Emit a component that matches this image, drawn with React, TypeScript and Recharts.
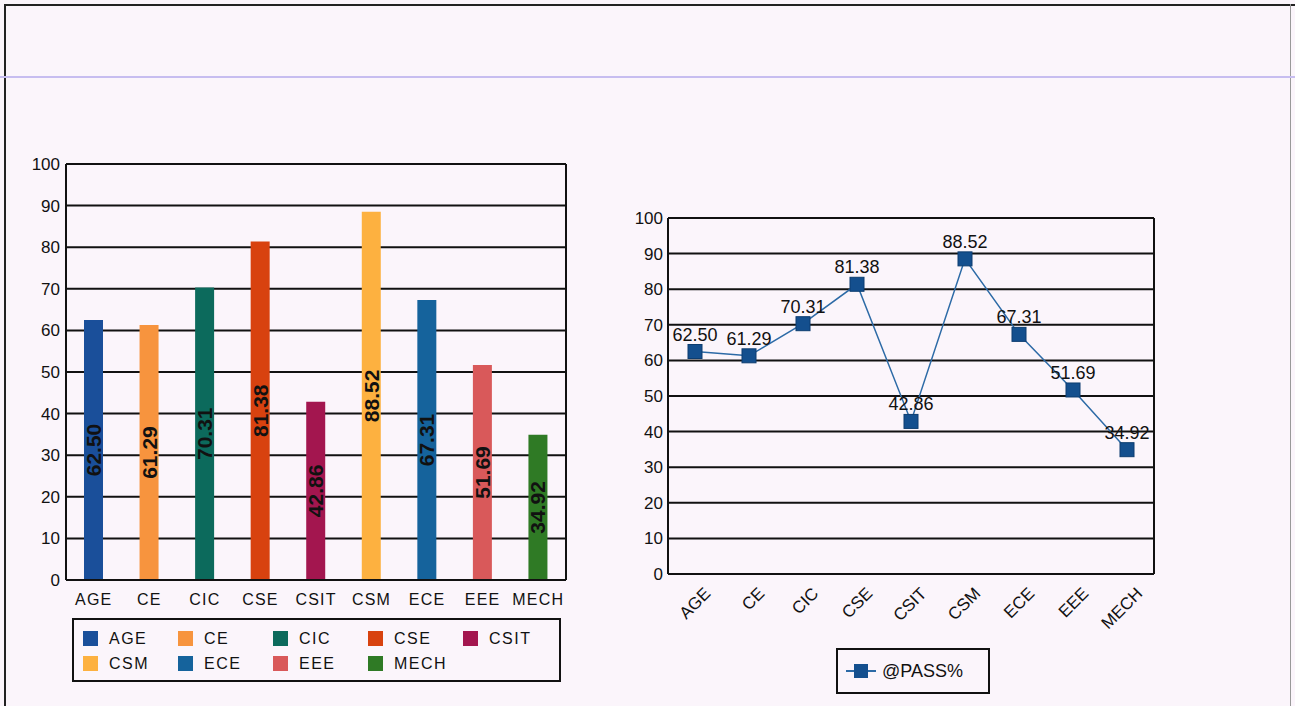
import {
  BarChart, Bar, LineChart, Line, XAxis, YAxis, CartesianGrid, Cell, LabelList,
} from 'recharts'

const branches = ['AGE', 'CE', 'CIC', 'CSE', 'CSIT', 'CSM', 'ECE', 'EEE', 'MECH']
const passPct = [62.5, 61.29, 70.31, 81.38, 42.86, 88.52, 67.31, 51.69, 34.92]
const branchColors = ['#1a4f9a', '#f7943e', '#0c6a5c', '#d8420f', '#a3164f', '#fdb140', '#15639c', '#d9595a', '#2f7a25']
const yTicks = [0, 10, 20, 30, 40, 50, 60, 70, 80, 90, 100]
const seriesName = '@PASS%'

const data = branches.map((name, i) => ({ name, pass: passPct[i] }))

const INK = '#111'
const BG = '#fbf5fb'

const BarValueLabel = (props: any) => {
  const { x, y, width, height, value } = props
  const cx = Number(x) + Number(width) / 2
  const cy = Number(y) + Number(height) / 2
  return (
    <text
      x={cx}
      y={cy}
      transform={`rotate(-90 ${cx} ${cy})`}
      textAnchor="middle"
      dominantBaseline="central"
      fontSize={21}
      fontWeight="bold"
      fill={INK}
    >
      {Number(value).toFixed(2)}
    </text>
  )
}

const PointLabel = (props: any) => {
  const { x, y, value } = props
  return (
    <text x={x} y={Number(y) - 11} textAnchor="middle" fontSize={18} fill={INK}>
      {Number(value).toFixed(2)}
    </text>
  )
}

const SquareDot = (props: any) => {
  const { cx, cy, index } = props
  return <rect key={index} x={cx - 7} y={cy - 7} width={14} height={14} fill="#144f8e" stroke="#0d3d70" strokeWidth={1} />
}

function BranchLegend() {
  return (
    <div style={{
      position: 'absolute', left: 72, top: 618, width: 489, height: 64,
      border: `2px solid ${INK}`, display: 'flex', flexWrap: 'wrap', alignContent: 'flex-start',
      padding: '6px 0 0 9px', boxSizing: 'border-box',
    }}>
      {branches.map((b, i) => (
        <div key={b} style={{ width: 95, height: 25, display: 'flex', alignItems: 'center' }}>
          <span style={{ width: 15, height: 15, background: branchColors[i], marginRight: 11, flexShrink: 0 }} />
          <span style={{ fontSize: 16, letterSpacing: 1.5, color: INK }}>{b}</span>
        </div>
      ))}
    </div>
  )
}

function PassLegend() {
  return (
    <div style={{
      position: 'absolute', left: 836, top: 648, width: 154, height: 46,
      border: `2px solid ${INK}`, boxSizing: 'border-box',
      display: 'flex', alignItems: 'center', paddingLeft: 8,
    }}>
      <svg width={30} height={16} style={{ marginRight: 6 }}>
        <line x1={0} y1={8} x2={30} y2={8} stroke="#2c6aa6" strokeWidth={2} />
        <rect x={8} y={1} width={14} height={14} fill="#144f8e" />
      </svg>
      <span style={{ fontSize: 18, color: INK }}>{seriesName}</span>
    </div>
  )
}

export default function App() {
  return (
    <div style={{
      position: 'absolute', left: 0, top: 0, width: 1295, height: 706,
      background: BG, overflow: 'hidden', fontFamily: '"Liberation Sans", Arial, sans-serif',
    }}>
      {/* page frame */}
      <div style={{ position: 'absolute', left: 4, top: 4, width: 1291, height: 2, background: '#222' }} />
      <div style={{ position: 'absolute', left: 4, top: 4, width: 2, height: 702, background: '#222' }} />
      <div style={{ position: 'absolute', left: 1290, top: 4, width: 1, height: 702, background: '#999' }} />
      <div style={{ position: 'absolute', left: 0, top: 76, width: 1295, height: 2, background: '#c7bdf0' }} />

      <div style={{ position: 'absolute', left: 0, top: 150 }}>
        <BarChart width={600} height={470} data={data} margin={{ top: 14, right: 0, left: 0, bottom: 0 }} barSize={19}>
          <CartesianGrid vertical={false} stroke={INK} strokeWidth={2} />
          <XAxis
            dataKey="name"
            height={40}
            tickLine={false}
            tickMargin={8}
            axisLine={{ stroke: INK, strokeWidth: 2 }}
            tick={{ fontSize: 16, fill: INK, letterSpacing: 1.2 }}
            interval={0}
          />
          <YAxis
            domain={[0, 100]}
            ticks={yTicks}
            width={66}
            tickLine={false}
            tickSize={0}
            tickMargin={6}
            axisLine={{ stroke: INK, strokeWidth: 2 }}
            tick={{ fontSize: 17, fill: INK }}
          />
          <YAxis
            yAxisId="frame"
            orientation="right"
            domain={[0, 100]}
            width={34}
            tick={false}
            tickLine={false}
            axisLine={{ stroke: INK, strokeWidth: 2 }}
          />
          <Bar dataKey="pass" isAnimationActive={false}>
            {data.map((d, i) => <Cell key={d.name} fill={branchColors[i]} />)}
            <LabelList dataKey="pass" content={BarValueLabel} />
          </Bar>
        </BarChart>
      </div>
      <BranchLegend />

      <div style={{ position: 'absolute', left: 600, top: 200 }}>
        <LineChart width={580} height={444} data={data} margin={{ top: 18, right: 0, left: 0, bottom: 0 }}>
          <CartesianGrid vertical={false} stroke={INK} strokeWidth={2} />
          <XAxis
            dataKey="name"
            height={70}
            padding={{ left: 27, right: 27 }}
            tickLine={false}
            tickMargin={6}
            axisLine={{ stroke: INK, strokeWidth: 2 }}
            tick={{ fontSize: 17, fill: INK, angle: -45, textAnchor: 'end', dx: 8 }}
            interval={0}
          />
          <YAxis
            domain={[0, 100]}
            ticks={yTicks}
            width={68}
            tickLine={false}
            tickSize={0}
            tickMargin={5}
            axisLine={{ stroke: INK, strokeWidth: 2 }}
            tick={{ fontSize: 17, fill: INK }}
          />
          <YAxis
            yAxisId="frame"
            orientation="right"
            domain={[0, 100]}
            width={26}
            tick={false}
            tickLine={false}
            axisLine={{ stroke: INK, strokeWidth: 2 }}
          />
          <Line
            dataKey="pass"
            stroke="#2c6aa6"
            strokeWidth={1.5}
            dot={SquareDot}
            activeDot={false}
            isAnimationActive={false}
          >
            <LabelList dataKey="pass" content={PointLabel} />
          </Line>
        </LineChart>
      </div>
      <PassLegend />
    </div>
  )
}
